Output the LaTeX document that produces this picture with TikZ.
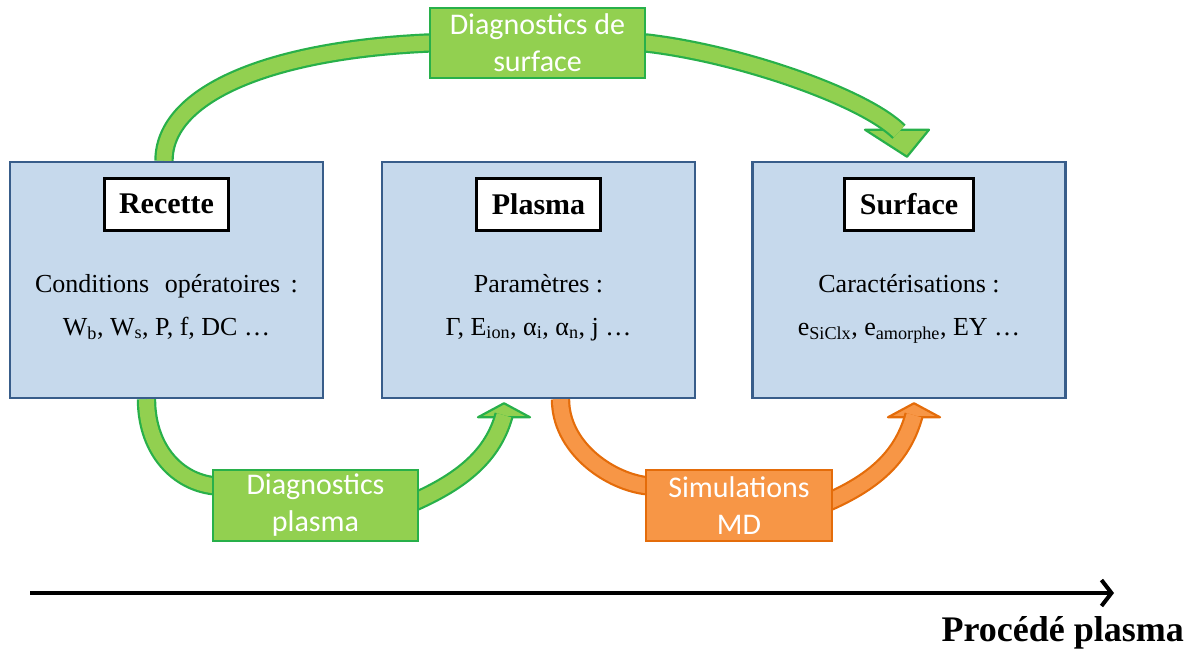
\documentclass[tikz,border=0pt]{standalone}
\usepackage{fontspec}
\setmainfont{Liberation Serif}
\newfontfamily\calibri{Carlito}
\usetikzlibrary{arrows.meta,calc}

\definecolor{boxfill}{RGB}{198,217,236}
\definecolor{boxline}{RGB}{56,93,138}
\definecolor{gfill}{RGB}{146,208,80}
\definecolor{gline}{RGB}{40,176,74}
\definecolor{ofill}{RGB}{247,150,70}
\definecolor{oline}{RGB}{228,108,10}

\pgfdeclarelayer{background}
\pgfsetlayers{background,main}

\tikzset{
  stage/.style={draw=boxline, fill=boxfill, line width=2.5pt, minimum width=313pt, minimum height=236pt, inner sep=0},
  stagetitle/.style={draw=black, fill=white, line width=3pt, minimum height=52pt, inner xsep=15pt, font=\bfseries\fontsize{30}{34}\selectfont},
  stagetext/.style={anchor=base, inner sep=0, font=\fontsize{26}{30}\selectfont},
  tag/.style={line width=2.5pt, text=white, align=center, inner sep=0, font=\calibri\fontsize{30}{37}\selectfont},
  gtag/.style={tag, draw=gline, fill=gfill},
  otag/.style={tag, draw=oline, fill=ofill},
  gshaft/.style={draw=gline, line width=2.2pt, double=gfill, double distance=15pt},
  oshaft/.style={draw=oline, line width=2.2pt, double=ofill, double distance=15pt},
  ghead/.style={draw=gline, fill=gfill, line width=2.2pt, line join=round},
  ohead/.style={draw=oline, fill=ofill, line width=2.2pt, line join=round},
}

\begin{document}
\begin{tikzpicture}[x=1pt, y=-1pt]
\useasboundingbox (0,0) rectangle (1186,648);

% the three stages
\foreach \nm/\x/\ttl/\la/\lb in {
  recette/166.5/Recette/{Conditions\hspace{.35em} opératoires\hspace{.15em} :}/{W\textsubscript{b}, W\textsubscript{s}, P, f, DC …},
  plasma/538.5/Plasma/{Paramètres :}/{Γ, E\textsubscript{ion}, α\textsubscript{i}, α\textsubscript{n}, j …},
  surface/909/Surface/{Caractérisations :}/{e\textsubscript{SiClx}, e\textsubscript{amorphe}, EY …}}
{
    \node[stage] (\nm) at (\x,280) {};
    \node[stagetitle] (\nm-title) at (\x,204) {\ttl};
    \node[stagetext] (\nm-a) at (\x,292) {\la};
    \node[stagetext] (\nm-b) at (\x,335) {\lb};
}

% labels on the arrows
\node[gtag, minimum width=215pt, minimum height=70pt] (dsurf) at (537.5,43) {Diagnostics de\\surface};
\node[gtag, minimum width=205pt, minimum height=71pt] (dplasma) at (315.5,505.5) {Diagnostics\\plasma};
\node[otag, minimum width=186pt, minimum height=71pt] (md) at (739,505.5) {Simulations\\MD};

\begin{pgfonlayer}{background}
\coordinate (stip) at ($(surface.north)+(-2,-4)$);
\coordinate (gtip) at ($(plasma.south)+(-34.5,4)$);
\coordinate (otip) at ($(surface.south)+(5,4)$);

\filldraw[ghead] (stip) -- ++(-42,-27) -- ++(64,0) -- cycle;
\draw[gshaft] ($(recette.north)+(-2.5,0)$) .. controls +(0,-67) and (270,50) .. (dsurf.west)
    -- (dsurf.east) .. controls +(95,11) and +(-34,-34) .. ($(stip)+(-8,-25)$);

\filldraw[ghead] (gtip) -- ++(-26,14) -- ++(52,0) -- cycle;
\draw[gshaft] ($(recette.south)+(-20,0)$) .. controls +(0,47) and +(-38,-5.5) .. ($(dplasma.west)+(0,-20)$)
    -- ($(dplasma.east)+(-4,-4)$) .. controls +(47,-21) and +(-11,40) .. ($(gtip)+(0,12)$);

\filldraw[ohead] (otip) -- ++(-26,14) -- ++(52,0) -- cycle;
\draw[oshaft] ($(plasma.south)+(22,0)$) .. controls +(0,47) and +(-38,-5.5) .. ($(md.west)+(0,-20)$)
    -- ($(md.east)+(-4,-4)$) .. controls +(47,-21) and +(-11,40) .. ($(otip)+(0,12)$);
\end{pgfonlayer}

% process axis
\coordinate (axstart) at (30,593);
\coordinate (axend) at (1114,593);
\draw[line width=4pt, -{Straight Barb[length=10pt, width=26pt]}] (axstart) -- (axend);
\node[anchor=base east, inner sep=0, font=\bfseries\fontsize{36}{40}\selectfont] (procede) at (1184,641) {Procédé plasma};

\end{tikzpicture}
\end{document}
